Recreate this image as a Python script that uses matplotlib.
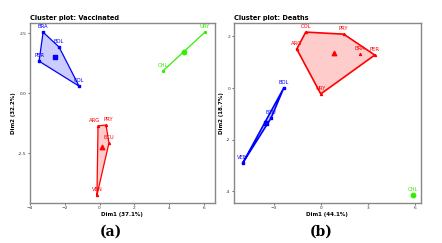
import matplotlib
matplotlib.use("Agg")
import matplotlib.pyplot as plt
import numpy as np

# ---- data: Vaccinated ----
vac_names = ["BRA", "BOL", "PER", "COL", "URY", "CHL", "ARG", "PRY", "ECU", "VEN"]
vac_x = [-3.25, -2.33, -3.48, -1.18, 6.06, 3.64, -0.09, 0.37, 0.54, -0.15]
vac_y = [2.54, 1.92, 1.33, 0.29, 2.54, 0.92, -1.37, -1.33, -2.08, -4.25]
vac_cl = [3, 3, 3, 3, 2, 2, 1, 1, 1, 1]

# ---- data: Deaths ----
dea_names = ["COL", "PRY", "ARG", "BRA", "PER", "URY", "BOL", "ECU", "VEN", "CHL"]
dea_x = [-0.96, 1.46, -1.53, 2.48, 3.44, 0.00, -2.36, -3.17, -4.97, 5.86]
dea_y = [2.17, 2.09, 1.51, 1.32, 1.28, -0.23, 0.00, -1.17, -2.91, -4.15]
dea_cl = [1, 1, 1, 1, 1, 1, 3, 3, 3, 2]

colors = {1: "#FF0000", 2: "#33EE00", 3: "#0000FF"}
markers = {1: "^", 2: "o", 3: "s"}


def hull(pts):
    pts = sorted(set(pts))
    if len(pts) <= 2:
        return pts
    def cross(o, a, b):
        return (a[0]-o[0])*(b[1]-o[1]) - (a[1]-o[1])*(b[0]-o[0])
    lower, upper = [], []
    for p in pts:
        while len(lower) >= 2 and cross(lower[-2], lower[-1], p) <= 0:
            lower.pop()
        lower.append(p)
    for p in reversed(pts):
        while len(upper) >= 2 and cross(upper[-2], upper[-1], p) <= 0:
            upper.pop()
        upper.append(p)
    return lower[:-1] + upper[:-1]


def panel(ax, names, xs, ys, cls, title, xlab, ylab, xlim, ylim, xt, yt, ytl,
          nudge=None, lw=1.0):
    nudge = nudge or {}
    xs = np.array(xs); ys = np.array(ys); cls = np.array(cls)
    for c in sorted(set(cls)):
        m = cls == c
        col = colors[c]
        px, py = xs[m], ys[m]
        h = hull(list(zip(px, py)))
        if len(h) >= 3:
            hx = [p[0] for p in h] + [h[0][0]]
            hy = [p[1] for p in h] + [h[0][1]]
            ax.fill(hx, hy, color=col, alpha=0.2, lw=0)
            ax.plot(hx, hy, color=col, lw=lw)
        elif len(h) == 2:
            ax.plot([h[0][0], h[1][0]], [h[0][1], h[1][1]], color=col, lw=lw)
        ax.scatter(px, py, marker=markers[c], s=2, color=col, zorder=3)
        ax.scatter([px.mean()], [py.mean()], marker=markers[c], s=10, color=col, zorder=4)
        for n, a, b in zip(np.array(names)[m], px, py):
            dx, dy = nudge.get(n, (0, 0))
            ax.annotate(n, (a, b), xytext=(dx, 2.0 + dy), textcoords="offset points",
                        ha="center", va="bottom", fontsize=3.8, color=col)
    ax.set_xlim(*xlim); ax.set_ylim(*ylim)
    ax.set_xticks(xt); ax.set_yticks(yt)
    ax.set_yticklabels(ytl)
    ax.tick_params(labelsize=3.2, length=1.5, width=0.5, pad=1, colors="#333333")
    for s in ax.spines.values():
        s.set_color("#888888"); s.set_linewidth(1.0)
    ax.set_xlabel(xlab, fontsize=4, fontweight="bold", labelpad=1.5)
    ax.set_ylabel(ylab, fontsize=4, fontweight="bold", labelpad=1.5)
    ax.set_title(title, fontsize=4.8, fontweight="bold", loc="left", pad=2.5)


fig = plt.figure(figsize=(4.42, 2.43), dpi=100)
ax1 = fig.add_axes([0.068, 0.165, 0.418, 0.74])
ax2 = fig.add_axes([0.529, 0.165, 0.423, 0.74])

panel(ax1, vac_names, vac_x, vac_y, vac_cl, "Cluster plot: Vaccinated",
      "Dim1 (37.1%)", "Dim2 (32.2%)", (-4.0, 6.63), (-4.58, 2.92),
      [-4, -2, 0, 2, 4, 6], [2.5, 0.0, -2.5], ["2.5", "0.0", "-2.5"],
      nudge={"ARG": (-2.5, 0), "PRY": (2.0, 0.5)}, lw=0.9)
panel(ax2, dea_names, dea_x, dea_y, dea_cl, "Cluster plot: Deaths",
      "Dim1 (44.1%)", "Dim2 (18.7%)", (-5.54, 6.37), (-4.46, 2.52),
      [-3, 0, 3, 6], [2, 0, -2, -4], ["2", "0", "-2", "-4"], lw=1.2)

fig.text(0.251, 0.045, "(a)", fontsize=10, fontweight="bold", family="DejaVu Serif",
         ha="center", va="center")
fig.text(0.727, 0.045, "(b)", fontsize=10, fontweight="bold", family="DejaVu Serif",
         ha="center", va="center")

fig.savefig("out.png", dpi=100)
